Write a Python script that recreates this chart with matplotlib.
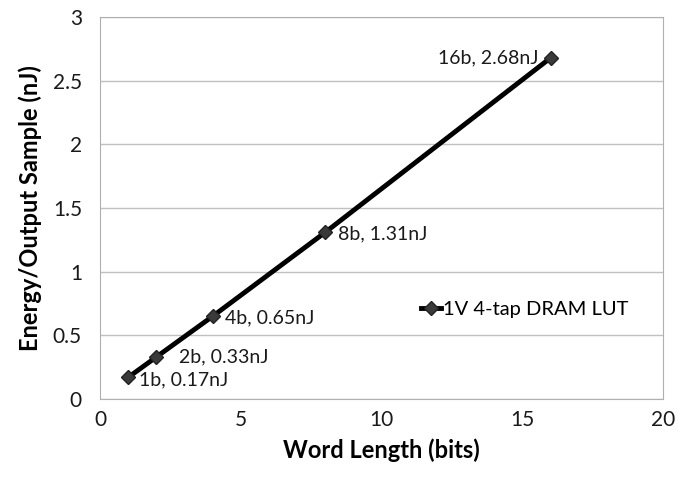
import matplotlib.pyplot as plt

plt.rcParams['font.family'] = ['Lato', 'DejaVu Sans']

bits = [1, 2, 4, 8, 16]
energy = [0.17, 0.33, 0.65, 1.31, 2.68]
labels = ['1b, 0.17nJ', '2b, 0.33nJ', '4b, 0.65nJ', '8b, 1.31nJ', '16b, 2.68nJ']
# label offsets in points, relative to each marker
offsets = [(8, -2), (16, 0), (9, -1), (9, -1), (-9, 0)]
aligns = ['left', 'left', 'left', 'left', 'right']

fig = plt.figure(figsize=(6.78, 4.79), dpi=100)
ax = fig.add_axes([0.1475, 0.167, 0.831, 0.7975])

ax.plot(bits, energy, color='black', lw=3.5, marker='D', markersize=7,
        markerfacecolor='#3a3a3a', markeredgecolor='#222222',
        label='1V 4-tap DRAM LUT', zorder=3)

for x, y, s, off, ha in zip(bits, energy, labels, offsets, aligns):
    ax.annotate(s, (x, y), xytext=off, textcoords='offset points',
                ha=ha, va='center', fontsize=14, color='#1a1a1a')

ax.set_xlim(0, 20)
ax.set_ylim(0, 3)
ax.set_xticks([0, 5, 10, 15, 20])
ax.set_yticks([0, 0.5, 1, 1.5, 2, 2.5, 3])
ax.set_yticklabels(['0', '0.5', '1', '1.5', '2', '2.5', '3'])
ax.tick_params(labelsize=15, length=0, colors='#1a1a1a')
ax.tick_params(axis='y', pad=13)
ax.tick_params(axis='x', pad=8)
ax.yaxis.grid(True, color='#c0c0c0', lw=1)
ax.set_axisbelow(True)
for sp in ax.spines.values():
    sp.set_color('#b0b0b0')

ax.set_xlabel('Word Length (bits)', fontsize=17, fontweight='bold', labelpad=6)
ax.set_ylabel('Energy/Output Sample (nJ)', fontsize=17, fontweight='bold', labelpad=8)

ax.legend(loc='center left', bbox_to_anchor=(0.537, 0.235), frameon=False,
          fontsize=14.5, handlelength=1.0, handletextpad=0.1, markerscale=1.0)

fig.savefig('out.png', dpi=100)
